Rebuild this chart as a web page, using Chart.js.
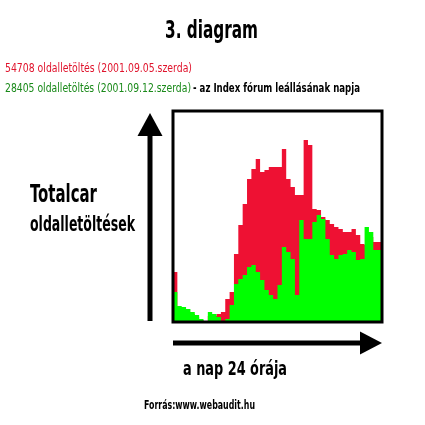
<!DOCTYPE html>
<html>
<head>
<meta charset="utf-8">
<title>3. diagram</title>
<script src="https://cdn.jsdelivr.net/npm/chart.js@4"></script>
<style>
  html, body { margin: 0; padding: 0; background: #fff; }
  #c { display: block; }
</style>
</head>
<body>
<canvas id="c" width="425" height="425"></canvas>
<script>
// half-hour slots of the day, in hours
const slots = Array.from({ length: 48 }, (_, i) => i / 2);

// 2001.09.05 (szerda) - page downloads per half hour
const sept05 = [580, 500, 150, 120, 100, 80, 50, 20, 0, 60, 60, 80,
  100, 230, 300, 680, 970, 1180, 1430, 1530, 1630, 1500, 1520, 1550,
  1550, 1550, 1730, 1430, 1350, 1270, 1270, 1820, 1770, 1130, 1120, 1050,
  1020, 980, 950, 930, 900, 900, 930, 870, 780, 770, 850, 800];

// 2001.09.12 (szerda) - the day the Index forum was shut down
const sept12 = [470, 300, 160, 150, 130, 100, 70, 30, 0, 100, 80, 50,
  0, 30, 170, 380, 430, 470, 550, 570, 500, 420, 320, 270,
  230, 370, 750, 700, 630, 270, 1020, 830, 830, 1000, 1070, 1030,
  830, 670, 630, 670, 680, 720, 700, 620, 630, 950, 900, 720];

const FONT = '"Liberation Sans Narrow", "DejaVu Sans Condensed", "DejaVu Sans", sans-serif';

function toPoints(values) {
  const pts = values.map((v, i) => ({ x: slots[i], y: v }));
  pts.push({ x: 24, y: values[values.length - 1] }); // close the last step
  return pts;
}

// texts, arrows and the frame round the plot
const decor = {
  id: "decor",
  afterDraw(chart) {
    const c = chart.ctx;
    const a = chart.chartArea;
    c.save();

    c.strokeStyle = "#000";
    c.lineWidth = 3;
    c.strokeRect(a.left, a.top, a.right - a.left, a.bottom - a.top);

    // up arrow
    const ux = a.left - 23;
    c.fillStyle = "#000";
    c.fillRect(ux - 2.5, a.top + 24, 5, a.bottom - a.top - 25);
    c.beginPath();
    c.moveTo(ux, a.top + 2);
    c.lineTo(ux - 12.5, a.top + 25);
    c.lineTo(ux + 12.5, a.top + 25);
    c.closePath();
    c.fill();

    // right arrow
    const ay = a.bottom + 21;
    c.fillRect(a.left, ay - 2.5, a.right - a.left - 20, 5);
    c.beginPath();
    c.moveTo(a.right, ay);
    c.lineTo(a.right - 22, ay - 11.5);
    c.lineTo(a.right - 22, ay + 11.5);
    c.closePath();
    c.fill();

    c.textBaseline = "alphabetic";
    c.textAlign = "left";
    const txt = (s, x, y, w, size, color, weight) => {
      c.font = (weight || "bold") + " " + size + "px " + FONT;
      c.fillStyle = color;
      c.fillText(s, x, y, w);
    };

    txt("3. diagram", 165, 38, 93, 25, "#000");
    txt("54708 oldalletöltés (2001.09.05.szerda)", 5, 72, 187, 12, "#e0142d", "normal");
    txt("28405 oldalletöltés (2001.09.12.szerda)", 5, 92, 186, 12, "#1a8a1a", "normal");
    txt("- az Index fórum leállásának napja", 193, 92, 167, 12, "#000");
    txt("Totalcar", 30, 202, 67, 24, "#000");
    txt("oldalletöltések", 30, 231, 105, 21, "#000");
    txt("a nap 24 órája", 183, 375, 104, 19, "#000");
    txt("Forrás:www.webaudit.hu", 144, 409, 111, 12, "#000");

    c.restore();
  }
};

new Chart(document.getElementById("c").getContext("2d"), {
  type: "line",
  data: {
    datasets: [
      {
        label: "28405 oldalletöltés (2001.09.12.szerda)",
        data: toPoints(sept12),
        stepped: "after",
        fill: "origin",
        backgroundColor: "#00ff00",
        borderWidth: 0,
        pointRadius: 0
      },
      {
        label: "54708 oldalletöltés (2001.09.05.szerda)",
        data: toPoints(sept05),
        stepped: "after",
        fill: "origin",
        backgroundColor: "#ee1133",
        borderWidth: 0,
        pointRadius: 0
      }
    ]
  },
  options: {
    responsive: false,
    animation: false,
    layout: { padding: { left: 173, right: 43, top: 111, bottom: 103 } },
    scales: {
      x: { type: "linear", min: 0, max: 24, display: false },
      y: { min: 0, max: 2110, display: false }
    },
    plugins: {
      legend: { display: false },
      tooltip: { enabled: false }
    }
  },
  plugins: [decor]
});
</script>
</body>
</html>
